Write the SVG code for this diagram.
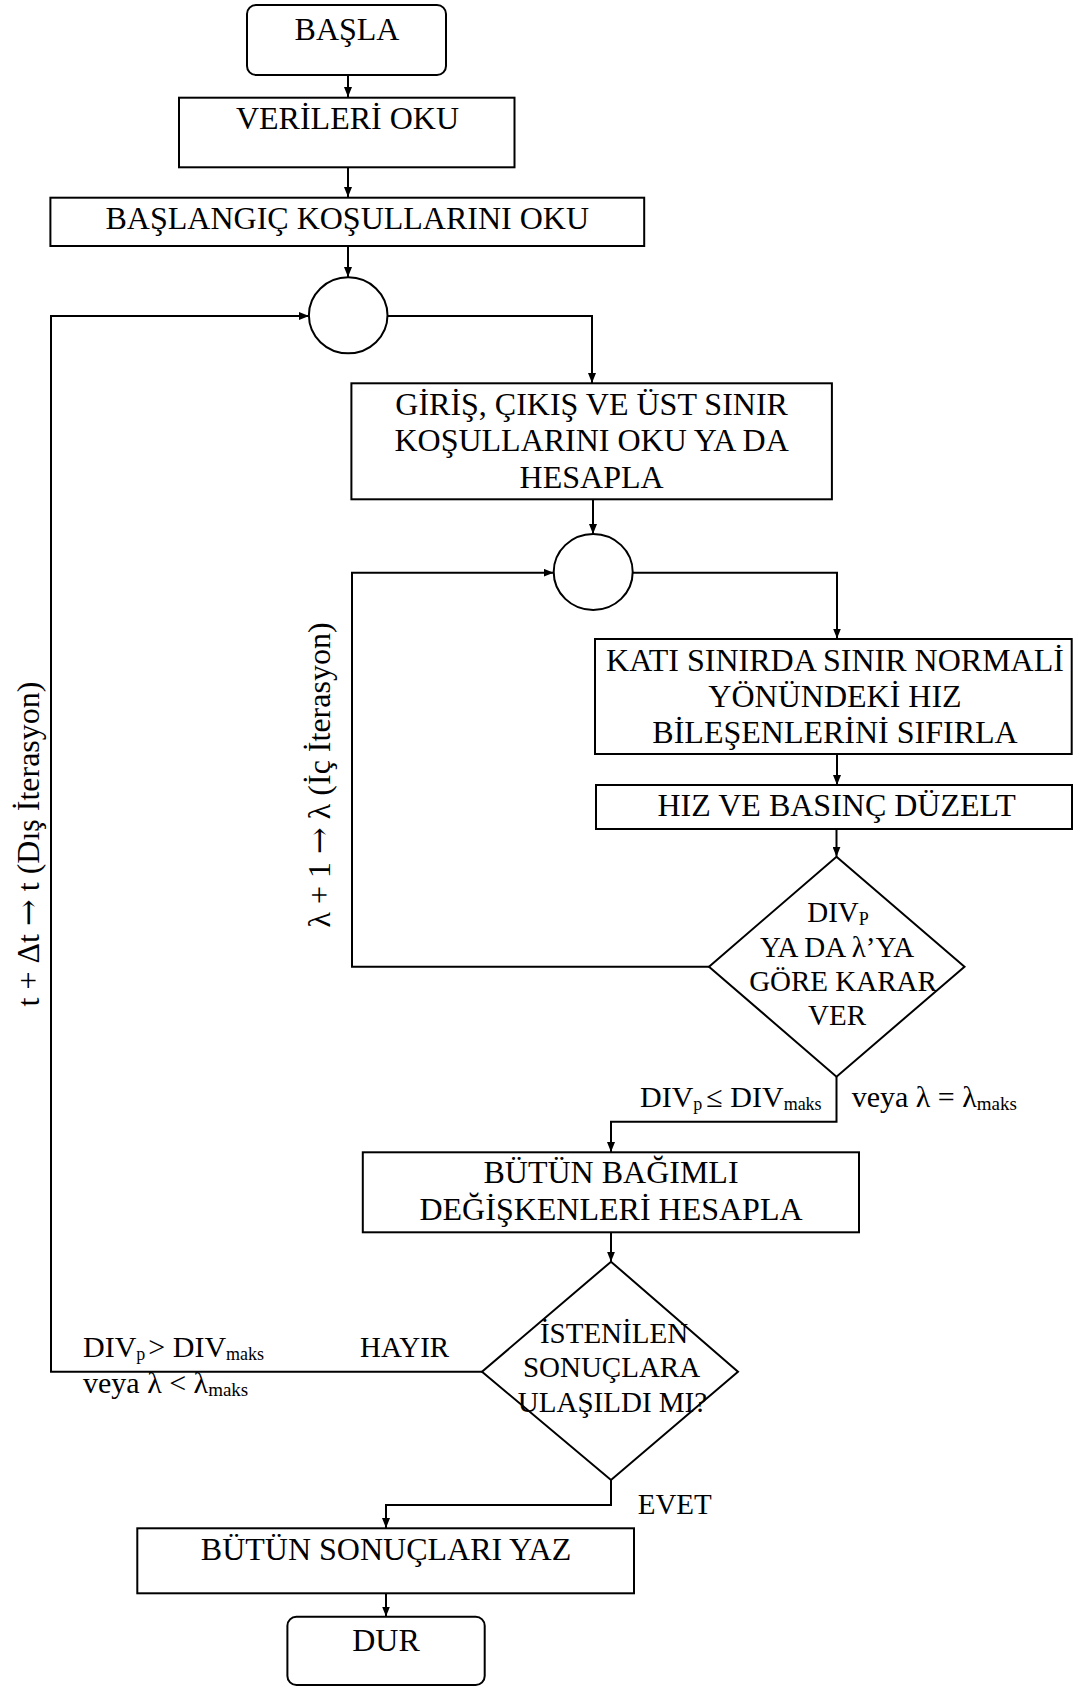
<svg xmlns="http://www.w3.org/2000/svg" width="1075" height="1686" viewBox="0 0 1075 1686">
<style>
  .shape { fill: #fff; stroke: #000; stroke-width: 2; }
  .conn { fill: none; stroke: #000; stroke-width: 2; }
  text { font-family: "Liberation Serif", "Times New Roman", serif; fill: #000; }
  .box { font-size: 32px; text-anchor: middle; }
  .dia { font-size: 29px; text-anchor: middle; }
  .lbl { font-size: 30px; }
  .lbs { font-size: 30px; }
  .yn { font-size: 29px; }
  .rot { font-size: 32px; text-anchor: middle; }
  .arw { font-family: "DejaVu Serif", serif; }
</style>
<defs>
  <marker id="arr" viewBox="0 0 10 8" refX="10" refY="4" markerWidth="10" markerHeight="8" markerUnits="userSpaceOnUse" orient="auto">
    <path d="M0,0 L10,4 L0,8 z" fill="#000"/>
  </marker>
</defs>

<g id="connectors">
  <path class="conn" d="M348,75 V97" marker-end="url(#arr)"/>
  <path class="conn" d="M348,167 V197" marker-end="url(#arr)"/>
  <path class="conn" d="M348,246 V277" marker-end="url(#arr)"/>
  <path class="conn" d="M387.5,316 H592 V383" marker-end="url(#arr)"/>
  <path class="conn" d="M593,499 V534" marker-end="url(#arr)"/>
  <path class="conn" d="M632.7,572.7 H837 V638.5" marker-end="url(#arr)"/>
  <path class="conn" d="M837,754 V785" marker-end="url(#arr)"/>
  <path class="conn" d="M836.5,829 V856.7" marker-end="url(#arr)"/>
  <path class="conn" d="M709,966.7 H352 V572.7 H553.6" marker-end="url(#arr)"/>
  <path class="conn" d="M836.5,1076.7 V1121.7 H611 V1152" marker-end="url(#arr)"/>
  <path class="conn" d="M611,1232.3 V1261.7" marker-end="url(#arr)"/>
  <path class="conn" d="M482,1371.7 H51 V316 H309" marker-end="url(#arr)"/>
  <path class="conn" d="M611,1480 V1505 H386 V1528" marker-end="url(#arr)"/>
  <path class="conn" d="M386,1593.3 V1616.5" marker-end="url(#arr)"/>
</g>

<g id="basla">
  <rect class="shape" x="247" y="5" width="199" height="70" rx="9" ry="9"/>
  <text class="box" x="347" y="40">BAŞLA</text>
</g>

<g id="verileri-oku">
  <rect class="shape" x="179" y="97.7" width="335.5" height="69.6"/>
  <text class="box" x="347.5" y="129">VERİLERİ OKU</text>
</g>

<g id="baslangic">
  <rect class="shape" x="50.4" y="197.7" width="593.8" height="48.3"/>
  <text class="box" x="347.3" y="229">BAŞLANGIÇ KOŞULLARINI OKU</text>
</g>

<g id="junction-outer">
  <ellipse class="shape" cx="348.2" cy="315.3" rx="39.3" ry="38"/>
</g>

<g id="giris">
  <rect class="shape" x="351.4" y="383.3" width="480.5" height="116"/>
  <text class="box" x="591.6" y="415">GİRİŞ, ÇIKIŞ VE ÜST SINIR</text>
  <text class="box" x="591.6" y="451">KOŞULLARINI OKU YA DA</text>
  <text class="box" x="591.6" y="488">HESAPLA</text>
</g>

<g id="junction-inner">
  <ellipse class="shape" cx="593.2" cy="572" rx="39.5" ry="38"/>
</g>

<g id="kati">
  <rect class="shape" x="595" y="639" width="476.7" height="115"/>
  <text class="box" x="835" y="671">KATI SINIRDA SINIR NORMALİ</text>
  <text class="box" x="835" y="707">YÖNÜNDEKİ HIZ</text>
  <text class="box" x="835" y="743">BİLEŞENLERİNİ SIFIRLA</text>
</g>

<g id="hiz">
  <rect class="shape" x="596" y="785" width="476" height="44"/>
  <text class="box" x="836.6" y="816">HIZ VE BASINÇ DÜZELT</text>
</g>

<g id="karar">
  <polygon class="shape" points="836.5,856.7 964.5,966.7 836.5,1076.7 709,966.7"/>
  <text class="dia" x="838" y="922">DIV<tspan font-size="18" dy="3">P</tspan></text>
  <text class="dia" x="837" y="956.5">YA DA λ’YA</text>
  <text class="dia" x="843" y="991">GÖRE KARAR</text>
  <text class="dia" x="837" y="1025">VER</text>
</g>

<g id="bagimli">
  <rect class="shape" x="362.8" y="1152.3" width="496.2" height="80"/>
  <text class="box" x="611" y="1183">BÜTÜN BAĞIMLI</text>
  <text class="box" x="611" y="1220">DEĞİŞKENLERİ HESAPLA</text>
</g>

<g id="sonuc-karar">
  <polygon class="shape" points="611,1261.7 738,1371.7 611,1480 482,1371.7"/>
  <text class="dia" x="614" y="1343">İSTENİLEN</text>
  <text class="dia" x="611.5" y="1377">SONUÇLARA</text>
  <text class="dia" x="612.5" y="1411.5">ULAŞILDI MI?</text>
</g>

<g id="yaz">
  <rect class="shape" x="137.3" y="1528.3" width="496.7" height="65"/>
  <text class="box" x="386" y="1560">BÜTÜN SONUÇLARI YAZ</text>
</g>

<g id="dur">
  <rect class="shape" x="287.4" y="1616.7" width="197.3" height="68.3" rx="9" ry="9"/>
  <text class="box" x="386" y="1650.5">DUR</text>
</g>

<g id="labels">
  <text class="lbl" x="640" y="1107">DIV<tspan font-size="18" dy="3">p</tspan><tspan dx="4" dy="-3">≤ DIV</tspan><tspan font-size="18" dy="3">maks</tspan></text>
  <text class="lbs" x="851.7" y="1107">veya λ = λ<tspan font-size="19" dy="3">maks</tspan></text>
  <text class="lbl" x="83" y="1357">DIV<tspan font-size="18" dy="3">p</tspan><tspan dx="3" dy="-3">&gt; DIV</tspan><tspan font-size="18" dy="3">maks</tspan></text>
  <text class="lbs" x="83" y="1393">veya λ &lt; λ<tspan font-size="19" dy="3">maks</tspan></text>
  <text class="yn" x="360" y="1357">HAYIR</text>
  <text class="yn" x="637.7" y="1514">EVET</text>
  <text class="rot" transform="translate(39,844) rotate(-90)">t + Δt <tspan class="arw">→</tspan> t (Dış İterasyon)</text>
  <text class="rot" transform="translate(330,775) rotate(-90)">λ + 1 <tspan class="arw">→</tspan> λ (İç İterasyon)</text>
</g>
</svg>
